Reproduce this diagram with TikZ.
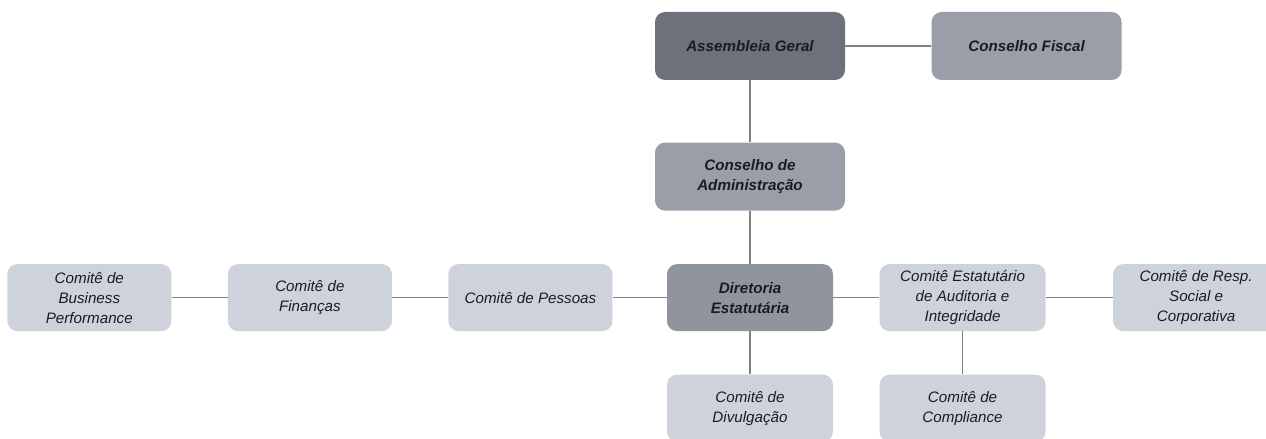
\documentclass[tikz,border=0pt]{standalone}
\usepackage{fontspec}
\setmainfont{Liberation Sans}
\usetikzlibrary{positioning}
\definecolor{boxdark}{HTML}{6C717C}
\definecolor{boxmid}{HTML}{9A9EA8}
\definecolor{boxdir}{HTML}{8F949D}
\definecolor{boxlight}{HTML}{CED3DB}
\definecolor{linegray}{HTML}{808080}
\definecolor{textgray}{HTML}{1C1C1E}
\tikzset{
	box/.style={rectangle, rounded corners=2.5mm, align=center, text=textgray, minimum width=41.5mm, minimum height=16.75mm, font=\fontsize{10.8}{14.2}\selectfont\itshape},
	board/.style={box, minimum width=47.5mm, minimum height=17mm, font=\fontsize{10.8}{14.2}\selectfont\bfseries\itshape},
	link/.style={draw=linegray, line width=1.1pt}
}

\begin{document}
\begin{tikzpicture}[
	node distance = 13.25mm and 14mm
	]
	\useasboundingbox (0,0) rectangle (316.5mm,-109.75mm);
	
	% Top: governance bodies
	\node[board, fill=boxdark] (ag) at (187.5mm,-11.5mm) {Assembleia Geral};
	\node[board, fill=boxmid, right=21.5mm of ag] (cf) {Conselho Fiscal};
	\node[board, fill=boxmid, below=15.5mm of ag] (ca) {Conselho de\\Administração};
	
	% Middle row
	\node[box, fill=boxdir, below=of ca, font=\fontsize{10.8}{14.2}\selectfont\bfseries\itshape] (de) {Diretoria\\Estatutária};
	\node[box, fill=boxlight, minimum width=41mm, left=13.5mm of de] (cp) {Comitê de Pessoas};
	\node[box, fill=boxlight, minimum width=41mm, left=of cp] (cfin) {Comitê de\\Finanças};
	\node[box, fill=boxlight, minimum width=41mm, left=of cfin] (cbp) {Comitê de\\Business\\Performance};
	\node[box, fill=boxlight, right=11.5mm of de] (cea) {Comitê Estatutário\\de Auditoria e\\Integridade};
	\node[box, fill=boxlight, right=16.75mm of cea] (crs) {Comitê de Resp.\\Social e\\Corporativa};
	
	% Bottom row
	\node[box, fill=boxlight, below=10.75mm of de] (cd) {Comitê de\\Divulgação};
	\node[box, fill=boxlight, below=10.75mm of cea] (cc) {Comitê de\\Compliance};
	
	% Links
	\draw[link] (ag) -- (cf);
	\draw[link] (ag) -- (ca);
	\draw[link] (ca) -- (de);
	\draw[link] (de) -- (cp);
	\draw[link] (cp) -- (cfin);
	\draw[link] (cfin) -- (cbp);
	\draw[link] (de) -- (cea);
	\draw[link] (cea) -- (crs);
	\draw[link] (de) -- (cd);
	\draw[link] (cea) -- (cc);
	
\end{tikzpicture}
\end{document}
